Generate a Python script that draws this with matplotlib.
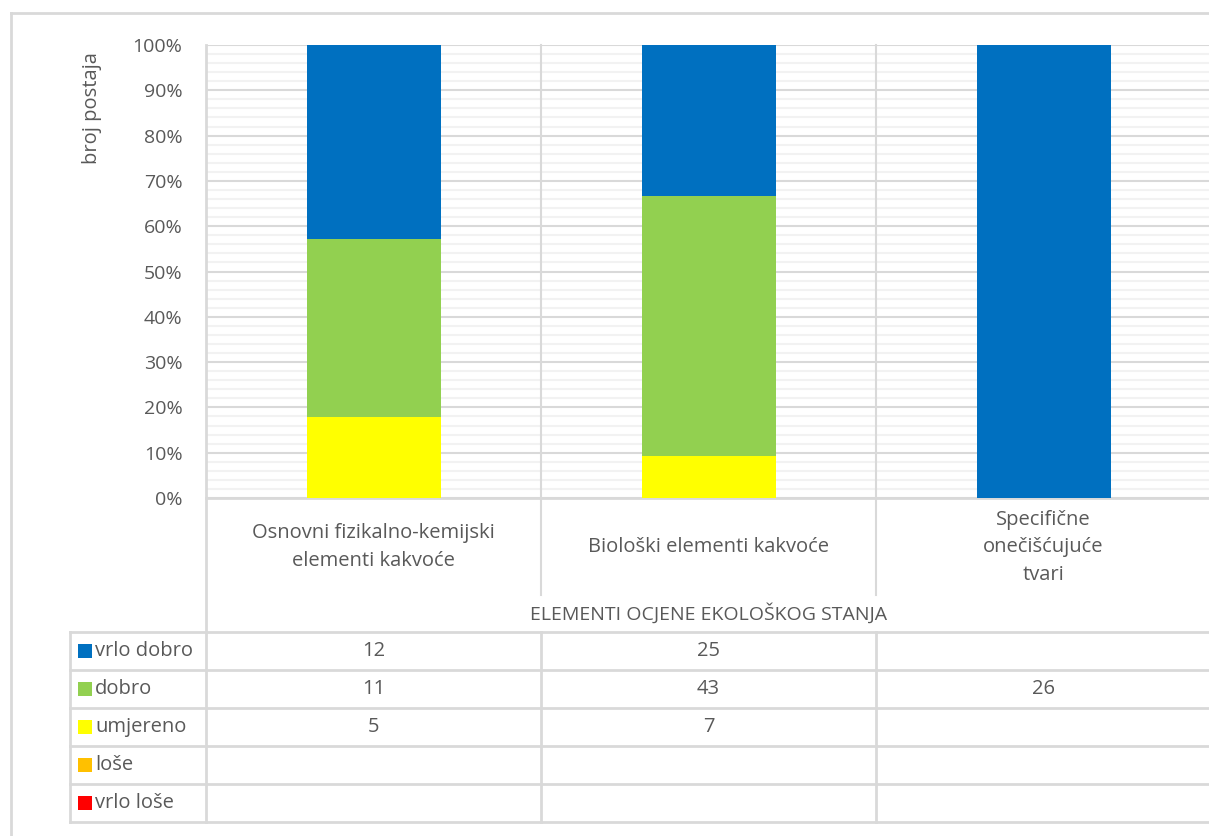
import matplotlib
matplotlib.use("Agg")
import matplotlib.pyplot as plt
import matplotlib.transforms as mtransforms
from matplotlib.lines import Line2D
from matplotlib.patches import Rectangle
import numpy as np

categories = ["Osnovni fizikalno-kemijski\nelementi kakvoće",
              "Biološki elementi kakvoće",
              "Specifične\nonečišćujuće\ntvari"]
series_names = ["vrlo dobro", "dobro", "umjereno", "loše", "vrlo loše"]
series_colors = ["#0070C0", "#92D050", "#FFFF00", "#FFC000", "#FF0000"]

# bar values (counts), stacked from bottom: vrlo loše .. vrlo dobro
vrlo_dobro = [12, 25, 26]
dobro = [11, 43, 0]
umjereno = [5, 7, 0]
lose = [0, 0, 0]
vrlo_lose = [0, 0, 0]

# data table as printed in the chart
table_vrlo_dobro = ["12", "25", ""]
table_dobro = ["11", "43", "26"]
table_umjereno = ["5", "7", ""]
table_lose = ["", "", ""]
table_vrlo_lose = ["", "", ""]

yticks = [0, 10, 20, 30, 40, 50, 60, 70, 80, 90, 100]
ylabel = "broj postaja"
xtitle = "ELEMENTI OCJENE EKOLOŠKOG STANJA"

W, H = 1209, 836
TXT = "#595959"
GRID = "#D9D9D9"
FONT = "Open Sans"
FS = 14
plt.rcParams["font.family"] = [FONT, "DejaVu Sans"]

fig = plt.figure(figsize=(W / 100, H / 100), dpi=100)

def fx(px):
    return px / W

def fy(py):
    return 1 - py / H

# plot area: left 206, right 1211 (3 categories of 335 px), top 45, bottom 498
ax_l, ax_r, ax_t, ax_b = 206, 1211, 45, 498
ax = fig.add_axes([fx(ax_l), fy(ax_b), fx(ax_r - ax_l), (ax_b - ax_t) / H])
ax.set_xlim(-0.5, 2.5)
ax.set_ylim(0, 100)

series = [vrlo_dobro, dobro, umjereno, lose, vrlo_lose]
arr = np.array(series, dtype=float)
totals = arr.sum(axis=0)
pct = arr / totals * 100
x = np.arange(len(categories))
bottom = np.zeros(len(categories))
for i in range(len(series) - 1, -1, -1):
    ax.bar(x, pct[i], bottom=bottom, width=0.4, color=series_colors[i],
           zorder=3, linewidth=0)
    bottom += pct[i]

ax.set_yticks(yticks)
ax.set_yticklabels([f"{v}%" for v in yticks])
ax.set_yticks(np.arange(0, 101, 2), minor=True)
ax.yaxis.grid(True, which="major", color=GRID, linewidth=1.5, zorder=0)
ax.yaxis.grid(True, which="minor", color="#F2F2F2", linewidth=1.5, zorder=0)
ax.tick_params(axis="y", which="both", length=0, pad=17, labelsize=FS,
               labelcolor=TXT)
ax.tick_params(axis="x", length=0, labelbottom=False)
for s in ["top", "right"]:
    ax.spines[s].set_visible(False)
ax.spines["left"].set_color(GRID)
ax.spines["left"].set_linewidth(2)
ax.spines["bottom"].set_color(GRID)
ax.spines["bottom"].set_linewidth(2)

# blended transform: x in data coords, y in figure coords
bt = mtransforms.blended_transform_factory(ax.transData, fig.transFigure)

# vertical category separators from top of plot down through label area
for b in [0.5, 1.5]:
    fig.add_artist(Line2D([b, b], [fy(ax_t), fy(595)], transform=bt,
                          color=GRID, linewidth=1.5, zorder=1))
# left boundary line extends down to table bottom
fig.add_artist(Line2D([-0.5, -0.5], [fy(ax_b), fy(822)], transform=bt,
                      color=GRID, linewidth=2))

# category labels
for i, c in enumerate(categories):
    fig.text(i, fy(547), c, transform=bt, ha="center", va="center",
             fontsize=FS + 0.5, color=TXT, linespacing=1.5)

fig.text(0.5 * (fx(206) + fx(1211)), fy(613), xtitle, ha="center",
         va="center", fontsize=FS, color=TXT)

# y label
fig.text(fx(92), fy(108), ylabel, rotation=90, ha="center", va="center",
         fontsize=FS + 0.5, color=TXT)

# table
row_lines = [632, 670, 708, 746, 784, 822]
tab_left = 70
for yl in row_lines:
    fig.add_artist(Line2D([fx(tab_left), 1.01], [fy(yl), fy(yl)],
                          transform=fig.transFigure, color=GRID, linewidth=2))
fig.add_artist(Line2D([fx(tab_left), fx(tab_left)], [fy(632), fy(822)],
                      transform=fig.transFigure, color=GRID, linewidth=2))
for b in [0.5, 1.5]:
    fig.add_artist(Line2D([b, b], [fy(632), fy(822)], transform=bt,
                          color=GRID, linewidth=2))

table_rows = [table_vrlo_dobro, table_dobro, table_umjereno, table_lose,
              table_vrlo_lose]
for r, (name, col, vals) in enumerate(zip(series_names, series_colors,
                                          table_rows)):
    yc = (row_lines[r] + row_lines[r + 1]) / 2
    fig.add_artist(Rectangle((fx(78), fy(yc + 7)), 14 / W, 14 / H,
                             transform=fig.transFigure, color=col,
                             linewidth=0))
    fig.text(fx(95), fy(yc), name, ha="left", va="center", fontsize=FS + 0.5,
             color=TXT)
    for i, v in enumerate(vals):
        if v:
            fig.text(i, fy(yc), v, transform=bt, ha="center", va="center",
                     fontsize=FS + 0.5, color=TXT)

# outer chart border
fig.add_artist(Line2D([fx(11), fx(11)], [fy(13), 0], transform=fig.transFigure,
                      color=GRID, linewidth=2))
fig.add_artist(Line2D([fx(11), 1.01], [fy(13), fy(13)],
                      transform=fig.transFigure, color=GRID, linewidth=2))

fig.savefig("out.png", dpi=100)
